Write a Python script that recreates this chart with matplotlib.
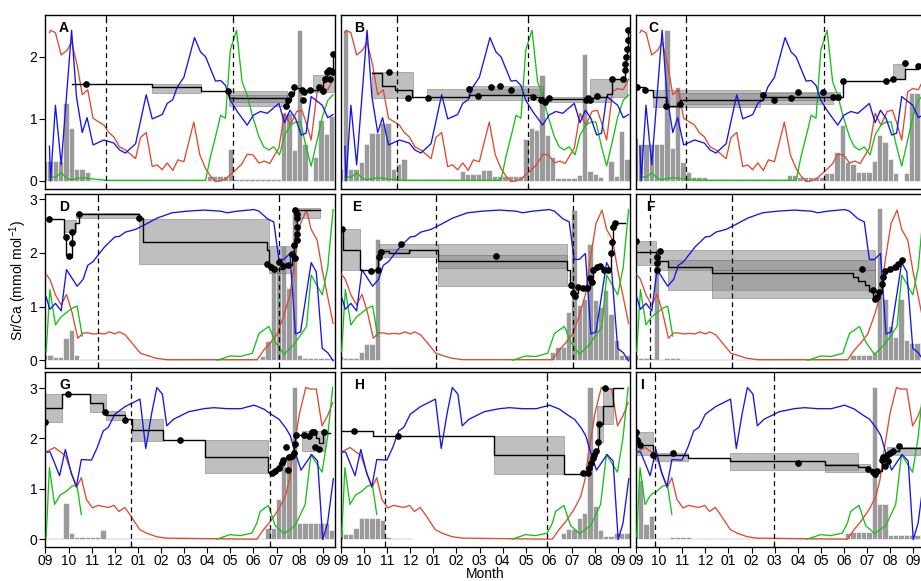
import numpy as np
import matplotlib
matplotlib.use("Agg")
import matplotlib.pyplot as plt

plt.rcParams['font.family'] = ['Liberation Sans', 'DejaVu Sans']
plt.rcParams['mathtext.fontset'] = 'custom'
plt.rcParams['mathtext.rm'] = 'Liberation Sans'

# x axis: months since 1 September
month_labels = ['09', '10', '11', '12', '01', '02', '03', '04', '05', '06', '07', '08', '09']
bar_start = -0.15   # weekly bins
bar_width = 0.23

# environmental series, shared by the panels of one row (red, blue, green)
r1_red_x = [0.17, 0.22, 0.43, 0.68, 0.94, 1.13, 1.37, 1.59, 1.83, 2.06, 2.53, 2.74, 2.96, 3.2, 3.46, 3.9, 4.11,
            4.36, 4.62, 4.83, 5.05, 5.27, 5.51, 5.73, 5.99, 6.42, 6.68, 6.93, 7.14, 7.36, 7.58, 7.79, 8.0, 8.3,
            8.51, 8.73, 8.98, 9.24, 9.48, 9.7, 10.1, 10.35, 10.6, 10.87, 11.1, 11.28, 11.5, 11.76, 11.98, 12.22, 12.45]
r1_red_y = [2.39, 2.43, 2.39, 2.03, 2.11, 2.24, 1.87, 1.39, 1.47, 1.01, 0.9, 0.78, 0.71, 0.55, 0.5, 0.36, 0.7,
            0.78, 0.23, 0.26, 0.18, 0.29, 0.17, 0.34, 0.31, 0.95, 0.42, 0.2, 0.08, -0.01, 0, 0.03, 0.1, 0.2,
            0.28, 0.43, 0.42, 0.29, 0.32, 0.28, 0.53, 1.09, 0.9, 1.12, 1.14, 0.94, 0.66, 1.44, 1.49, 1.47, 1.64]
r1_blue_x = [0.17, 0.22, 0.43, 0.68, 1.13, 1.34, 1.59, 1.80, 2.06, 2.53, 2.96, 3.2, 3.46, 3.9, 4.36, 4.62, 5.05,
             5.27, 5.51, 5.7, 5.99, 6.45, 6.71, 6.93, 7.36, 7.58, 7.79, 8.0, 8.3, 8.73, 9.0, 9.3, 9.6, 10.1,
             10.35, 10.58, 10.82, 11.07, 11.28, 11.5, 11.98, 12.22, 12.45]
r1_blue_y = [0.56, 0, 1.22, 0.26, 2.43, 1.36, 0.78, 1.02, 0.58, 0.66, 0.61, 0.5, 0.45, 0.6, 1.39, 1.0, 1.07,
             1.25, 1.31, 1.51, 1.67, 2.31, 2.08, 2.0, 1.61, 1.62, 1.54, 1.3, 1.12, 0.9, 1.06, 1.12, 1.09, 1.25,
             0.94, 1.14, 1.01, 0.74, 0.77, 1.36, 1.22, 1.02, 1.07]
r1_green_x = [0.17, 0.43, 0.68, 0.94, 1.13, 1.37, 1.66, 2.09, 2.67, 6.93, 7.14, 7.43, 7.58, 7.79, 8.0, 8.27,
              8.51, 8.73, 8.95, 9.24, 9.45, 9.67, 9.88, 10.13, 10.35, 10.6, 10.82, 11.04, 11.28, 11.5, 11.76,
              11.98, 12.22, 12.45]
r1_green_y = [0.07, 0.06, 0.13, 0.04, 0.02, 0.04, 0.05, 0.03, 0.01, 0.01, 0.39, 0.82, 1.06, 1.01, 2.11, 2.43,
              1.6, 1.38, 1.06, 0.71, 0.55, 0.5, 0.55, 0.42, 0.74, 0.9, 0.95, 0.95, 0.55, 0.24, 0.66,
              1.03, 1.3, 1.39]

r2_red_x = [0.03, 0.19, 0.43, 0.68, 0.91, 1.15, 1.4, 1.63, 1.83, 2.06, 2.31, 2.55, 2.77, 3.0, 3.2, 3.46, 4.11,
            4.76, 5.27, 9.16, 9.45, 9.74, 10.03, 10.32, 10.58, 10.82, 11.04, 11.3, 11.5, 11.76, 11.98, 12.45]
r2_red_y = [1.6, 1.51, 1.22, 1.03, 1.23, 0.89, 0.41, 0.51, 0.51, 0.49, 0.5, 0.49, 0.53, 0.49, 0.53, 0.47, 0.13,
            0.04, 0.01, 0.01, 0.19, 0.33, 0.49, 0.84, 1.22, 1.96, 2.55, 2.8, 2.44, 2.24, 1.68, 0.69]
r2_blue_x = [0.03, 0.19, 0.43, 0.68, 0.91, 1.37, 1.63, 1.83, 2.06, 2.55, 3.0, 3.2, 3.46, 3.9, 4.4, 4.83, 5.48,
             6.13, 6.85, 7.58, 7.86, 8.3, 9.02, 9.24, 9.6, 9.88, 10.1, 10.32, 10.58, 10.82, 11.04, 11.5, 11.72,
             11.98, 12.22, 12.45]
r2_blue_y = [1.18, 0.95, 1.06, 0.92, 1.69, 1.38, 1.51, 1.77, 1.84, 2.11, 2.3, 2.31, 2.39, 2.44, 2.55, 2.65, 2.75,
             2.78, 2.8, 2.78, 2.75, 2.78, 2.81, 2.78, 2.64, 2.58, 1.88, 1.88, 1.99, 0.49, 0.53, 1.82, 1.65,
             0.22, 0.14, -0.01]
r2_green_x = [0.03, 0.19, 0.43, 0.68, 1.15, 1.37, 1.59, 1.6, 7.43, 8.0, 8.44, 8.95, 9.24, 9.67, 9.96, 10.32,
              10.75, 11.3, 11.5, 11.98, 12.22, 12.45]
r2_green_y = [0.16, 1.32, 0.66, 0.81, 0.97, 1.01, 0.45, np.nan, 0, 0.08, 0.07, 0.13, 0.5, 0.63, 0.33, 0.11,
              0.29, 0.63, 1.59, 1.22, 1.74, 2.81]

r3_red_x = [0.03, 0.39, 0.86, 1.12, 1.34, 1.55, 1.77, 2.03, 2.27, 2.71, 2.97, 3.18, 3.43, 3.65, 4.08, 4.37, 4.8,
            5.24, 9.15, 9.44, 9.73, 10.09, 10.38, 10.56, 10.74, 11.0, 11.27, 11.46, 11.72, 11.97, 12.21, 12.43]
r3_red_y = [1.73, 1.82, 1.66, 1.32, 1.02, 1.22, 0.79, 0.62, 0.67, 0.63, 0.67, 0.55, 0.63, 0.49, 0.19, 0.12, 0.05,
            0.02, 0, 0.19, 0.35, 0.59, 0.85, 1.18, 1.78, 2.51, 3.01, 2.98, 2.98, 2.25, 2.45, 2.71]
r3_blue_x = [0.03, 0.2, 0.61, 0.86, 1.12, 1.34, 1.55, 1.99, 2.24, 2.5, 2.72, 3.0, 3.44, 4.09, 4.34, 4.6, 4.82,
             5.06, 5.25, 5.54, 6.2, 6.85, 7.29, 7.87, 8.45, 9.03, 9.46, 9.83, 10.11, 10.41, 10.6, 10.77, 11.06,
             11.52, 11.78, 12.0, 12.21, 12.46]
r3_blue_y = [1.73, 1.73, 1.26, 1.78, 1.3, 1.05, 1.58, 1.57, 1.82, 2.15, 2.22, 2.48, 2.63, 2.78, 1.8, 2.51, 3.01,
             2.88, 2.25, 2.38, 2.53, 2.59, 2.61, 2.59, 2.59, 2.66, 2.58, 2.46, 2.38, 2.2, 2.05, 1.78, 1.37,
             1.68, 1.55, -0.01, 0.32, 1.2]
r3_green_x = [0.03, 0.17, 0.39, 0.64, 0.9, 1.14, 1.36, 1.55, 1.56, 7.41, 7.99, 8.42, 8.93, 9.15, 9.29, 9.65,
              9.94, 10.33, 10.81, 11.24, 11.49, 11.97, 12.21, 12.43]
r3_green_y = [0.05, 1.42, 0.69, 0.88, 0.95, 1.05, 1.08, 0.49, np.nan, 0, 0.09, 0.07, 0.12, 0.32, 0.55, 0.67,
              0.27, 0.11, 0.27, 0.69, 1.68, 1.33, 2.02, 3.01]

# weekly bars per panel
bars_A = [0.32] * 4 + [1.26, 0.86, 0.19, 0.19, 0.14] + [0.02] * 22 + [0.08] * 4 + [0.51] + [0.03] * 9 + \
         [1.1, 1.1, 0.5, 2.44, 0.6, 0, 0.39, 0.98, 0.76, 1.05]
bars_B = [0.2, 2.44, 0.2, 0.2, 0.3, 0.59, 0.78, 0.78, 0.94, 0.94, 0.19, 0.27, 0.35] + [0.03] * 10 + [0.16] + \
         [0.11] * 3 + [0.18] * 2 + [0.08] * 6 + [0.67, 0.86, 0.82, 1.7, 0.74, 0.39] + [0.04] * 4 + \
         [0.1, 2.04, 0.16, 0.11, 0.07, 0, 0.32, 0.08, 0.8, 0.36]
bars_C = [0.69, 0.6, 0.6, 0.6, 0.6, 0.6, 2.44, 0.53, 1.51, 0.31, 0.15] + [0.07] * 3 + [0.03] * 15 + [0.1] * 2 + \
         [0.07] * 5 + [0.12] * 2 + [0.47, 0.9, 0.31, 0.28] + [0.15] * 3 + \
         [0.32, 0.74, 0.63, 0.36, 0.12, 0, 0.12, 1.41, 1.41, 1.41]
bars_D = [0.1, 0.1, 0.06, 0.06, 0.41, 0.56, 0.1] + [0.02] * 34 + [0.08, 0.35, 1.69, 1.69, 2.13, 1.34, 2.83, 0.1] + \
         [0.04] * 6
bars_E = [0.08, 0.05, 0.05, 0.05, 0.16, 0.3, 0.3, 2.27] + [0.01] * 32 + \
         [0.16, 0.25, 0.25, 0.9, 2.81, 1.03, 1.15, 2.16, 1.12, 1.0, 1.31, 0.86, 0.38, 0.1, 0.1]
bars_F = [0.1, 0.04, 0.04, 0.04, 1.8, 0.02, 0.04, 0.04, 0.04] + [0.02] * 32 + \
         [0.1, 0.1, 0.1, 0.1, 0.16, 2.83, 1.15, 0.64, 0.44, 1.15, 0.38, 0.32, 0.32, 0.32]
bars_G = [0.03] * 4 + [0.72, 0.12] + [0.05] * 5 + [0.19] + [0.02] * 30 + [0.23, 0.23, 0.79, 1.45, 1.68, 3.03] + \
         [0.33] * 6 + [0.19]
bars_H = [0.19, 0.11, 0.11, 0.22, 0.42, 0.42, 0.42, 0.42, 0.39, 0.05] + [0.03] * 4 + [0.01] * 28 + \
         [0.12, 0.2, 0.2, 0.42, 0.51, 3.03, 0.65, 0.19, 0.07, 0.07, 0.12, 0.12, 0.12]
bars_I = [0.3, 1.18, 0.31, 0.45, 0.02, 0.02, 0.02, 0.05, 0.05, 0.05, 0.05] + [0.02] * 29 + \
         [0.12, 0.15, 0.15, 0.15, 0.15, 3.03, 0.69, 0.69, 0.09, 0.09, 0.09, 0.09, 0.09, 0.09, 0.09]

# Sr/Ca profile: step line, uncertainty boxes (x0, x1, lo, hi), sample points
step_A_x = [1.13, 4.62, 6.75, 7.94, 10.42, 10.5, 10.61, 10.75, 11.11, 11.47, 11.83, 12.02, 12.12, 12.19, 12.27, 12.37, 12.44, 12.5]
step_A_y = [1.56, 1.51, 1.45, 1.33, 1.21, 1.31, 1.4, 1.5, 1.47, 1.47, 1.5, 1.6, 1.65, 1.76, 1.78, 1.77, 2.05, 2.05]
band_A = [(4.62, 6.75, 1.42, 1.57), (7.94, 10.46, 1.21, 1.45), (8.0, 10.46, 1.28, 1.38), (11.6, 12.5, 1.44, 1.7)]
dots_A_x = [1.77, 7.91, 10.42, 10.5, 10.61, 10.75, 11.11, 11.15, 11.21, 11.47, 11.83, 12.02, 12.12, 12.19, 12.27, 12.31, 12.37, 12.44, 12.44]
dots_A_y = [1.56, 1.45, 1.21, 1.31, 1.4, 1.51, 1.47, 1.3, 1.44, 1.47, 1.51, 1.45, 1.65, 1.76, 1.79, 1.64, 1.77, 2.05, 1.76]

step_B_x = [1.33, 1.76, 2.36, 3.06, 5.56, 7.36, 8.33, 8.76, 10.6, 11.07, 11.5, 11.72, 12.19, 12.29, 12.34, 12.37, 12.41, 12.45]
step_B_y = [1.74, 1.53, 1.46, 1.36, 1.39, 1.38, 1.36, 1.32, 1.33, 1.36, 1.4, 1.64, 1.65, 1.8, 2.0, 2.13, 2.43, 2.43]
band_B = [(1.33, 3.13, 1.33, 1.76), (3.71, 8.76, 1.3, 1.49), (5.5, 8.76, 1.38, 1.53), (8.76, 11.65, 1.28, 1.36),
          (10.78, 12.37, 1.36, 1.64)]
dots_B_x = [2.09, 2.91, 3.75, 5.56, 5.95, 6.49, 6.88, 7.36, 8.33, 8.64, 8.83, 9.02, 10.61, 10.71, 10.78, 11.07,
            11.72, 12.19, 12.29, 12.29, 12.34, 12.37, 12.41, 12.41]
dots_B_y = [1.75, 1.33, 1.34, 1.49, 1.37, 1.51, 1.53, 1.47, 1.36, 1.3, 1.28, 1.33, 1.31, 1.34, 1.3, 1.37,
            1.64, 1.65, 1.79, 1.89, 1.99, 2.13, 2.27, 2.43]

step_C_x = [0.0, 0.39, 0.72, 1.3, 1.9, 5.51, 8.54, 8.76, 8.95, 10.81, 11.14, 11.65, 12.19, 12.55]
step_C_y = [1.51, 1.47, 1.35, 1.21, 1.3, 1.36, 1.35, 1.36, 1.61, 1.62, 1.65, 1.81, 1.89, 1.89]
band_C = [(0.72, 5.37, 1.19, 1.47), (1.9, 8.54, 1.24, 1.42), (5.37, 8.83, 1.3, 1.44), (11.14, 11.65, 1.65, 1.89)]
dots_C_x = [0.06, 0.39, 1.3, 1.9, 5.51, 5.97, 6.7, 7.0, 8.11, 8.54, 8.76, 8.95, 10.81, 11.14, 11.65, 12.19]
dots_C_y = [1.51, 1.47, 1.21, 1.24, 1.39, 1.3, 1.33, 1.44, 1.44, 1.35, 1.36, 1.61, 1.61, 1.65, 1.9, 1.85]

step_D_x = [0.0, 0.8, 0.9, 1.0, 1.13, 1.15, 1.26, 1.47, 4.04, 4.23, 9.6, 9.67, 9.77, 10.29, 10.49, 10.68, 10.75,
            10.82, 10.87, 10.9, 11.9]
step_D_y = [2.64, 2.3, 1.96, 1.92, 2.19, 2.4, 2.55, 2.72, 2.65, 2.21, 2.05, 1.8, 1.71, 1.75, 1.77, 1.98, 2.15,
            2.36, 2.66, 2.8, 2.8]
band_D = [(0.8, 1.3, 2.39, 2.62), (1.3, 4.04, 2.66, 2.74), (4.04, 9.67, 1.79, 2.64), (9.67, 10.75, 1.62, 2.13),
          (10.75, 11.9, 2.66, 2.83)]
dots_D_x = [0.14, 0.9, 1.0, 1.13, 1.15, 1.47, 4.04, 9.6, 9.77, 9.88, 10.1, 10.29, 10.49, 10.68, 10.75, 10.82,
            10.87, 10.87, 10.87, 10.87, 10.9, 10.82]
dots_D_y = [2.64, 2.3, 1.94, 2.19, 2.39, 2.72, 2.65, 1.8, 1.73, 1.71, 1.84, 1.75, 1.77, 1.98, 2.15, 1.9,
            2.24, 2.36, 2.49, 2.66, 2.73, 2.81]

step_E_x = [0.03, 0.1, 0.82, 1.62, 2.06, 2.95, 4.21, 9.77, 9.9, 10.06, 10.27, 10.46, 10.63, 10.78, 10.92, 11.07,
            11.39, 11.57, 11.67, 11.75, 11.79, 11.86, 12.3]
step_E_y = [2.44, 2.05, 1.69, 2.03, 2.0, 2.05, 1.85, 1.68, 1.4, 1.25, 1.37, 1.34, 1.34, 1.53, 1.68, 1.74,
            1.68, 1.69, 2.0, 2.21, 2.49, 2.56, 2.56]
band_E = [(0.03, 0.82, 1.68, 2.44), (1.66, 4.21, 1.92, 2.16), (1.66, 3.0, 2.0, 2.08), (4.21, 9.77, 1.38, 2.16),
          (4.21, 9.77, 1.72, 1.96)]
dots_E_x = [0.03, 1.3, 1.62, 1.66, 1.72, 2.58, 6.7, 9.94, 10.06, 10.13, 10.27, 10.46, 10.63, 10.78, 10.85, 10.92,
            11.07, 11.21, 11.39, 11.57, 11.67, 11.75, 11.79, 11.86]
dots_E_y = [2.44, 1.67, 1.69, 1.92, 2.02, 2.16, 1.94, 1.4, 1.25, 1.2, 1.37, 1.34, 1.34, 1.53, 1.46, 1.68,
            1.74, 1.75, 1.68, 1.69, 2.0, 2.21, 2.49, 2.56]

step_F_x = [0.0, 0.87, 1.0, 1.4, 3.28, 9.4, 9.6, 9.9, 10.1, 10.27, 10.35, 10.45, 10.53, 10.64, 10.71, 10.78, 11.0,
            11.36, 11.5, 11.6]
step_F_y = [2.02, 1.92, 1.85, 1.73, 1.63, 1.55, 1.48, 1.4, 1.3, 1.2, 1.15, 1.18, 1.28, 1.43, 1.56, 1.67, 1.71,
            1.8, 1.87, 1.87]
band_F = [(0.0, 0.87, 1.77, 2.22), (0.87, 10.35, 1.69, 2.05), (1.4, 10.35, 1.31, 1.87), (3.28, 10.35, 1.17, 1.69)]
dots_F_x = [0.0, 1.04, 0.92, 0.92, 0.89, 9.8, 10.27, 10.35, 10.45, 10.53, 10.64, 10.71, 10.78, 11.0, 11.21, 11.36, 11.5]
dots_F_y = [2.22, 2.03, 1.92, 1.82, 1.68, 1.71, 1.31, 1.15, 1.18, 1.28, 1.43, 1.56, 1.67, 1.71, 1.73, 1.8, 1.87]

step_G_x = [0, 0.72, 1.91, 2.51, 2.62, 3.43, 3.76, 5.09, 6.9, 9.65, 9.8, 9.94, 10.09, 10.23, 10.3, 10.4, 10.56,
            10.67, 10.74, 10.81, 10.85, 11.4, 11.7, 11.85, 12.0, 12.3]
step_G_y = [2.61, 2.88, 2.71, 2.55, 2.46, 2.38, 2.17, 1.96, 1.64, 1.33, 1.35, 1.42, 1.52, 1.58, 1.62, 1.64, 1.66,
            1.72, 1.85, 2.0, 2.06, 2.08, 2.0, 1.9, 2.1, 2.1]
band_G = [(0, 0.72, 2.33, 2.88), (1.91, 2.6, 2.53, 2.88), (2.6, 3.43, 2.37, 2.55), (3.76, 5.09, 1.95, 2.38),
          (6.9, 9.65, 1.32, 1.96), (11.1, 12.11, 1.75, 2.15)]
dots_G_x = [0, 0.97, 2.56, 3.43, 5.82, 9.8, 9.94, 10.09, 10.23, 10.3, 10.4, 10.48, 10.56, 10.67, 10.74, 10.81,
            10.85, 11.17, 11.39, 11.53, 11.61, 11.68, 11.82, 12.04]
dots_G_y = [2.33, 2.88, 2.53, 2.37, 1.96, 1.32, 1.35, 1.42, 1.52, 1.58, 1.82, 1.38, 1.64, 1.66, 1.72, 1.88,
            2.06, 2.06, 2.05, 2.12, 2.13, 1.82, 1.78, 2.13]

step_H_x = [0, 1.37, 6.64, 9.67, 10.6, 10.75, 10.82, 10.89, 10.97, 11.04, 11.11, 11.18, 11.33, 11.76, 12.2]
step_H_y = [2.14, 2.04, 1.67, 1.3, 1.32, 1.42, 1.52, 1.62, 1.68, 1.75, 1.92, 2.28, 2.65, 3.01, 3.01]
band_H = [(6.64, 9.67, 1.3, 2.05), (11.1, 11.33, 1.92, 2.65), (11.33, 11.76, 2.28, 3.01)]
dots_H_x = [0.58, 2.45, 10.46, 10.68, 10.75, 10.82, 10.89, 10.97, 11.04, 11.11, 11.18, 11.44]
dots_H_y = [2.14, 2.04, 1.32, 1.32, 1.42, 1.52, 1.62, 1.68, 1.75, 1.92, 2.28, 3.01]

step_I_x = [0, 0.06, 0.17, 0.75, 2.27, 4.07, 8.18, 9.62, 10.06, 10.25, 10.35, 10.42, 10.64, 10.71, 10.85, 10.99,
            11.14, 11.39, 12.55]
step_I_y = [2.12, 1.97, 1.86, 1.68, 1.62, 1.55, 1.48, 1.44, 1.4, 1.33, 1.3, 1.35, 1.58, 1.64, 1.68, 1.72,
            1.75, 1.8, 1.82]
band_I = [(0, 0.75, 1.68, 2.12), (0.75, 2.27, 1.55, 1.72), (4.07, 9.62, 1.38, 1.72), (8.18, 10.13, 1.33, 1.5),
          (10.85, 12.29, 1.68, 1.82)]
dots_I_x = [0, 0.06, 0.17, 0.75, 1.62, 7.03, 10.06, 10.25, 10.35, 10.42, 10.64, 10.71, 10.78, 10.85, 10.92,
            10.99, 11.14, 11.39]
dots_I_y = [2.12, 1.97, 1.86, 1.68, 1.72, 1.52, 1.4, 1.33, 1.3, 1.35, 1.58, 1.64, 1.45, 1.68, 1.55,
            1.72, 1.75, 1.84]

# dashed reference dates per panel
vlines = {'A': (2.6, 8.1), 'B': (2.41, 8.1), 'C': (2.15, 8.14),
          'D': (2.27, 10.1), 'E': (4.1, 10.03), 'F': (0.61, 4.14),
          'G': (3.68, 9.73), 'H': (1.9, 8.9), 'I': (0.82, 5.97)}
label_x = {'A': 0.063, 'B': 0.062, 'C': 0.059, 'D': 0.063, 'E': 0.055, 'F': 0.05,
           'G': 0.068, 'H': 0.062, 'I': 0.02}

rows = [
    dict(red=(r1_red_x, r1_red_y), blue=(r1_blue_x, r1_blue_y), green=(r1_green_x, r1_green_y),
         ylim=(-0.13, 2.68), yticks=[0, 1, 2]),
    dict(red=(r2_red_x, r2_red_y), blue=(r2_blue_x, r2_blue_y), green=(r2_green_x, r2_green_y),
         ylim=(-0.15, 3.1), yticks=[0, 1, 2, 3]),
    dict(red=(r3_red_x, r3_red_y), blue=(r3_blue_x, r3_blue_y), green=(r3_green_x, r3_green_y),
         ylim=(-0.15, 3.31), yticks=[0, 1, 2, 3]),
]
panels = [
    ['A', bars_A, step_A_x, step_A_y, band_A, dots_A_x, dots_A_y],
    ['B', bars_B, step_B_x, step_B_y, band_B, dots_B_x, dots_B_y],
    ['C', bars_C, step_C_x, step_C_y, band_C, dots_C_x, dots_C_y],
    ['D', bars_D, step_D_x, step_D_y, band_D, dots_D_x, dots_D_y],
    ['E', bars_E, step_E_x, step_E_y, band_E, dots_E_x, dots_E_y],
    ['F', bars_F, step_F_x, step_F_y, band_F, dots_F_x, dots_F_y],
    ['G', bars_G, step_G_x, step_G_y, band_G, dots_G_x, dots_G_y],
    ['H', bars_H, step_H_x, step_H_y, band_H, dots_H_x, dots_H_y],
    ['I', bars_I, step_I_x, step_I_y, band_I, dots_I_x, dots_I_y],
]

fig = plt.figure(figsize=(9.21, 5.81), dpi=100)
col_left = [0.0494, 0.3702, 0.6906]
row_bottom = [0.6747, 0.3661, 0.0590]
ax_w, ax_h = 0.3143, 0.300

for idx, (name, bars, sx, sy, bands, dx, dy) in enumerate(panels):
    r, c = divmod(idx, 3)
    row = rows[r]
    ax = fig.add_axes([col_left[c], row_bottom[r], ax_w, ax_h])

    edges = bar_start + bar_width * np.arange(len(bars))
    ax.bar(edges, bars, width=bar_width, align='edge', color='#9a9a9a',
           edgecolor='white', linewidth=0.4, zorder=1)

    for x0, x1, lo, hi in bands:
        ax.fill_between([x0, x1], lo, hi, color='#8c8c8c', alpha=0.55,
                        edgecolor='#555555', linewidth=0.5, zorder=2)

    ax.plot(*row['red'], color='#dd4b2f', lw=0.95, zorder=3)
    ax.plot(*row['green'], color='#16c116', lw=0.95, zorder=3)
    ax.plot(*row['blue'], color='#1414f0', lw=0.95, zorder=3)

    for xv in vlines[name]:
        ax.axvline(xv, color='black', lw=0.9, ls=(0, (4, 3)), zorder=4)

    ax.plot(sx, sy, color='black', lw=1.0, drawstyle='steps-post', zorder=5)
    ax.plot(dx, dy, 'o', color='black', ms=3.8, zorder=6)

    ax.text(label_x[name], 0.925, name, transform=ax.transAxes, ha='center', va='center',
            fontsize=10, fontweight='bold')

    ax.set_xlim(0, 12.53)
    ax.set_ylim(*row['ylim'])
    for sp in ax.spines.values():
        sp.set_linewidth(1.0)

    # month ticks on the bottom row, reference dates as inner ticks
    ax.set_xticks(range(13))
    ax.set_xticks(vlines[name], minor=True)
    ax.tick_params(axis='x', which='minor', direction='in', top=True, bottom=True, length=4, width=0.8)
    if r == 2:
        ax.set_xticklabels(month_labels)
        ax.tick_params(axis='x', which='major', direction='out', length=4, width=0.8, labelsize=10, pad=1.5)
    else:
        ax.tick_params(axis='x', which='major', length=0, labelbottom=False)

    ax.set_yticks(row['yticks'])
    if c == 0:
        ax.tick_params(axis='y', direction='out', length=4, width=0.8, labelsize=10, pad=2)
    else:
        ax.tick_params(axis='y', length=0, labelleft=False)

fig.text(0.0195, 0.517, 'Sr/Ca (mmol mol$^{-1}$)', rotation=90, ha='center', va='center', fontsize=10)
fig.text(0.527, 0.0, 'Month', ha='center', va='bottom', fontsize=10)

fig.savefig('out.png', dpi=100)
